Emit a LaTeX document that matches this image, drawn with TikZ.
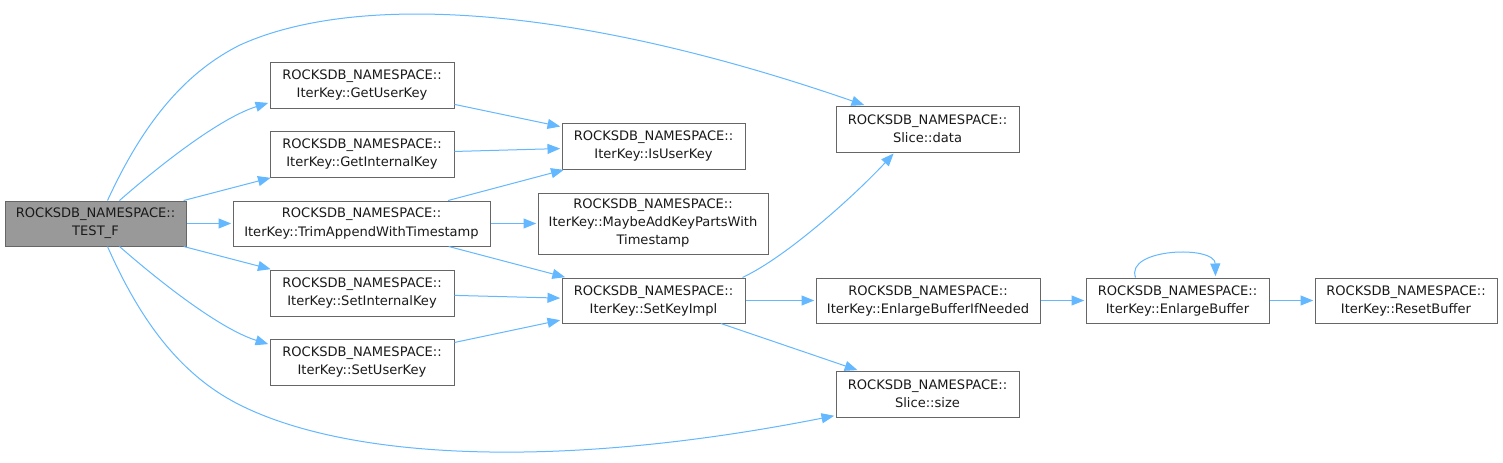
\documentclass[tikz,border=0pt]{standalone}
\usepackage{fontspec}
\setmainfont{DejaVu Sans}
\usetikzlibrary{arrows.meta,calc}
\definecolor{edgec}{HTML}{63B8FF}
\definecolor{boxc}{HTML}{666666}
\definecolor{hl}{HTML}{999999}
\definecolor{txt}{HTML}{1A1A1A}
\begin{document}
\begin{tikzpicture}[x=0.75pt, y=-0.75pt,
  fn/.style={draw=boxc, line width=0.75pt, fill=white, align=center, inner sep=0pt,
    font=\fontsize{9.8}{13.5}\selectfont, text=txt},
  wh/.style 2 args={minimum width=#1*0.75pt, minimum height=#2*0.75pt},
  e/.style={draw=edgec, line width=0.75pt, -{Triangle[length=9.5pt, width=7.5pt]}, shorten >=1pt}]
\useasboundingbox (0,0) rectangle (1503,462);
\fill[white] (0,0) rectangle (1503,462);

\node[fn, wh={181}{45}, fill=hl] (test) at (95.5,223.5) {ROCKSDB\_NAMESPACE::\\TEST\_F};
\node[fn, wh={184}{46}] (guk) at (362,85) {ROCKSDB\_NAMESPACE::\\IterKey::GetUserKey};
\node[fn, wh={184}{46}] (gik) at (362,154) {ROCKSDB\_NAMESPACE::\\IterKey::GetInternalKey};
\node[fn, wh={257}{45}] (trim) at (361.5,223.5) {ROCKSDB\_NAMESPACE::\\IterKey::TrimAppendWithTimestamp};
\node[fn, wh={184}{46}] (sik) at (362,293) {ROCKSDB\_NAMESPACE::\\IterKey::SetInternalKey};
\node[fn, wh={184}{46}] (suk) at (362,362) {ROCKSDB\_NAMESPACE::\\IterKey::SetUserKey};
\node[fn, wh={183}{46}] (isu) at (653.5,146) {ROCKSDB\_NAMESPACE::\\IterKey::IsUserKey};
\node[fn, wh={230}{61}] (maybe) at (653,223.5) {ROCKSDB\_NAMESPACE::\\IterKey::MaybeAddKeyPartsWith\\Timestamp};
\node[fn, wh={183}{45}] (ski) at (653.5,300.5) {ROCKSDB\_NAMESPACE::\\IterKey::SetKeyImpl};
\node[fn, wh={183}{46}] (sdata) at (927.5,129) {ROCKSDB\_NAMESPACE::\\Slice::data};
\node[fn, wh={183}{46}] (ssize) at (927.5,394) {ROCKSDB\_NAMESPACE::\\Slice::size};
\node[fn, wh={224}{45}] (ebin) at (928,300.5) {ROCKSDB\_NAMESPACE::\\IterKey::EnlargeBufferIfNeeded};
\node[fn, wh={183}{45}] (eb) at (1177.5,300.5) {ROCKSDB\_NAMESPACE::\\IterKey::EnlargeBuffer};
\node[fn, wh={182}{45}] (rb) at (1406,300.5) {ROCKSDB\_NAMESPACE::\\IterKey::ResetBuffer};

% from TEST_F
\draw[e] ($(test.north)+(24,0)$) .. controls (160,165) and (220,118) .. ($(guk.south west)+(0,-6)$);
\draw[e] (test) -- (gik);
\draw[e] (test) -- (trim);
\draw[e] (test) -- (sik);
\draw[e] ($(test.south)+(24,0)$) .. controls (160,282) and (220,329) .. ($(suk.north west)+(0,6)$);
\draw[e] ($(test.north)+(12,0)$) .. controls (140,130) and (180,75) .. (240,45)
   .. controls (350,-5) and (560,0) .. ($(sdata.north west)+(30,0)$);
\draw[e] ($(test.south)+(12,0)$) .. controls (140,320) and (180,375) .. (240,405)
   .. controls (350,460) and (560,470) .. ($(ssize.south west)+(0,-2)$);

% second column
\draw[e] (guk) -- (isu);
\draw[e] (gik) -- (isu);
\draw[e] (trim) -- (isu);
\draw[e] (trim) -- (maybe);
\draw[e] (trim) -- (ski);
\draw[e] (sik) -- (ski);
\draw[e] (suk) -- (ski);

% SetKeyImpl
\draw[e] ($(ski.north east)+(-3,0)$) .. controls (790,255) and (860,190) .. ($(sdata.south west)+(59,0)$);
\draw[e] (ski) -- (ebin);
\draw[e] (ski) -- (ssize);
\draw[e] (ebin) -- (eb);
\draw[e] ($(eb.north)+(-42,0)$) .. controls (1125,248) and (1215,245) .. ($(eb.north)+(38,0)$);
\draw[e] (eb) -- (rb);
\end{tikzpicture}
\end{document}
